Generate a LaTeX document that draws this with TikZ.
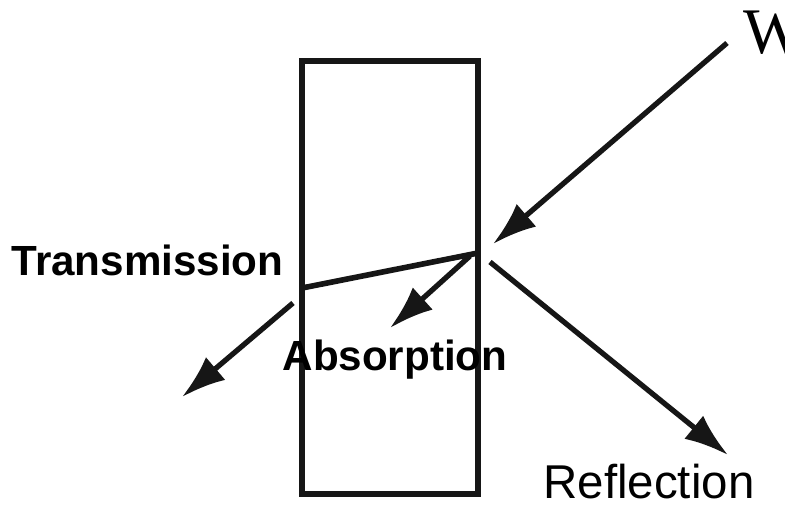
\documentclass[tikz,border=0pt]{standalone}
\usepackage{fontspec}
\setmainfont{Liberation Serif}
\setsansfont{Liberation Sans}
\usepackage{tikz}
\usetikzlibrary{arrows.meta,calc,positioning}
\definecolor{murekkep}{HTML}{161616}

\begin{document}
\begin{tikzpicture}[
  isin/.style={murekkep,line width=1.5pt,-{Latex[length=12.5pt,width=8.5pt]}},
  etiket/.style={inner sep=0pt,anchor=base,font=\sffamily\bfseries\fontsize{12}{14}\selectfont}]
\useasboundingbox (0,0) rectangle (7.85,5.04);
% levha
\draw[murekkep,line width=1.6pt] (3.02,0.10) rectangle (4.78,4.43);
\coordinate (sag) at (4.78,2.51);
\coordinate (sol) at (3.02,2.16);
\draw[murekkep,line width=1.6pt] (sag)--(sol);
% gelen dalga
\coordinate (gelen) at (7.27,4.61);
\coordinate (carpma) at (4.93,2.60);
\draw[isin] (gelen)--(carpma);
% yansima, gecis, sogurma
\coordinate (yansiBas) at (4.90,2.42);
\coordinate (yansiUc) at (7.28,0.49);
\draw[isin] (yansiBas)--(yansiUc);
\coordinate (gecisBas) at (2.93,2.01);
\coordinate (gecisUc) at (1.82,1.07);
\draw[isin] (gecisBas)--(gecisUc);
\coordinate (sogBas) at (4.70,2.48);
\coordinate (sogUc) at (3.90,1.76);
\draw[isin] (sogBas)--(sogUc);
% etiketler
\node[etiket] (gecis) at (1.475,2.29) {Transmission};
\node[etiket] (sogurma) at (3.95,1.34) {Absorption};
\node[inner sep=0pt,anchor=base,font=\sffamily\fontsize{13.5}{16}\selectfont] (yansima) at (6.49,0.06) {Reflection};
\node[inner sep=0pt,anchor=base west,font=\fontsize{18.5}{20}\selectfont] (dalga) at (7.43,4.51) {W};
\end{tikzpicture}
\end{document}
